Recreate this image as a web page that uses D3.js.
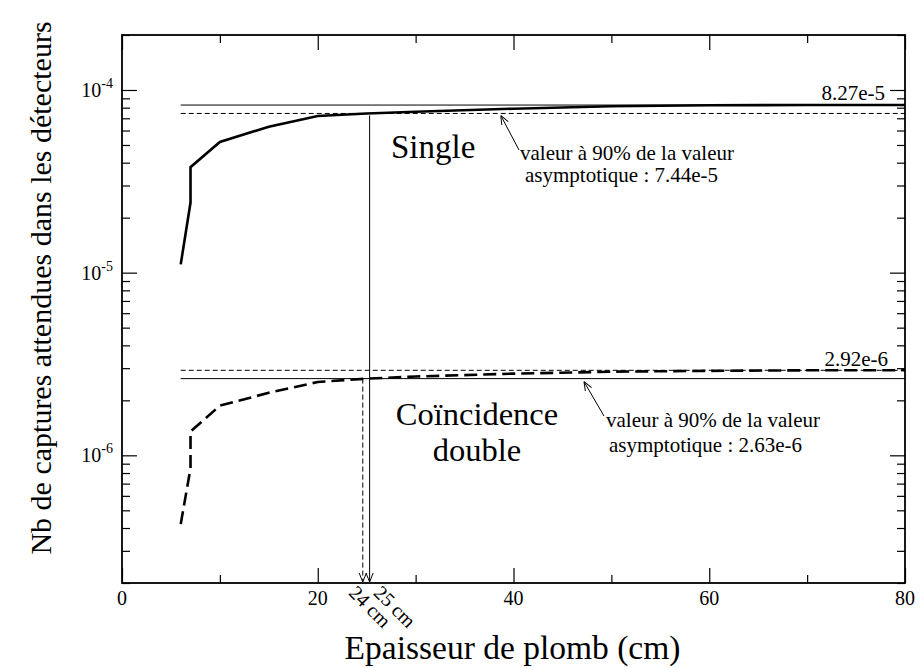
<!DOCTYPE html>
<html><head><meta charset="utf-8">
<script src="https://cdn.jsdelivr.net/npm/d3@7"></script>
<style>body{margin:0;background:#fff}svg,text,tspan{font-family:"Liberation Serif","Times New Roman",Times,serif}</style>
</head><body><svg id="c" width="920" height="668" font-family="Liberation Serif, serif"></svg>
<script>
// ---- data ----
const thickness = [6, 7, 7, 10, 15, 20, 25, 30, 40, 50, 60, 70, 80];
const singleVals = [1.11e-5, 2.42e-5, 3.78e-5, 5.19e-5, 6.3e-5, 7.2e-5, 7.44e-5, 7.6e-5, 7.9e-5, 8.15e-5, 8.25e-5, 8.27e-5, 8.27e-5];
const coincVals = [4.2e-7, 8.5e-7, 1.35e-6, 1.87e-6, 2.2e-6, 2.52e-6, 2.63e-6, 2.7e-6, 2.8e-6, 2.87e-6, 2.9e-6, 2.92e-6, 2.92e-6];
const singleAsym = 8.27e-5, single90 = 7.44e-5;
const coincAsym = 2.92e-6, coinc90 = 2.63e-6;
const xMajorTicks = [0, 20, 40, 60, 80];
const xMinorTicks = [10, 30, 50, 70];
const yMajorExp = [-6, -5, -4];
const cut = {single: 25.3, coinc: 24.6};
const lineStart = 6, lineEnd = 80;

const svg = d3.select("#c");
const L = 122, R = 905, T = 35, B = 583;
const x = d3.scaleLinear().domain([0, 80]).range([L, R]);
const y = d3.scaleLog().domain([2e-7, 2e-4]).range([B, T]);

const yMinor = [];
[-7, -6, -5, -4].forEach(e => { for (let k = 2; k <= 9; k++) { const v = k * Math.pow(10, e); if (v >= 2e-7 && v <= 2e-4) yMinor.push(v); } });
const yMajor = yMajorExp.map(e => Math.pow(10, e));

const g = svg.append("g");
function axis(gen, vals, size, tr) {
  const a = g.append("g").attr("transform", tr).call(gen.tickValues(vals).tickSize(size).tickFormat(""));
  a.select(".domain").remove();
  a.selectAll("line").attr("stroke", "#000").attr("stroke-width", 1.2);
}
axis(d3.axisBottom(x), xMajorTicks, -15, `translate(0,${B})`);
axis(d3.axisBottom(x), xMinorTicks, -8, `translate(0,${B})`);
axis(d3.axisTop(x), xMajorTicks, -15, `translate(0,${T})`);
axis(d3.axisTop(x), xMinorTicks, -8, `translate(0,${T})`);
axis(d3.axisLeft(y), yMajor, -15, `translate(${L},0)`);
axis(d3.axisLeft(y), yMinor, -8, `translate(${L},0)`);
axis(d3.axisRight(y), yMajor, -15, `translate(${R},0)`);
axis(d3.axisRight(y), yMinor, -8, `translate(${R},0)`);

g.append("rect").attr("x", L).attr("y", T).attr("width", R - L).attr("height", B - T)
  .attr("fill", "none").attr("stroke", "#000").attr("stroke-width", 1.8);

g.selectAll(".xl").data(xMajorTicks).join("text").attr("x", d => x(d)).attr("y", B + 22)
  .attr("text-anchor", "middle").attr("font-size", 20).text(d => d);
yMajorExp.forEach(e => {
  const t = g.append("text").attr("x", L - 9).attr("y", y(Math.pow(10, e)) + 7)
    .attr("text-anchor", "end").attr("font-size", 20);
  t.append("tspan").text("10");
  t.append("tspan").attr("font-size", 14).attr("dy", -9).text("-" + Math.abs(e));
});

svg.append("text").attr("x", (L + R) / 2 - 1).attr("y", 659).attr("text-anchor", "middle")
  .attr("font-size", 33.5).text("Epaisseur de plomb (cm)");
svg.append("text").attr("transform", `translate(51,${(T + B) / 2 - 21}) rotate(-90)`)
  .attr("text-anchor", "middle").attr("font-size", 30).text("Nb de captures attendues dans les détecteurs");

svg.append("defs").append("marker").attr("id", "ah").attr("viewBox", "0 0 10 10")
  .attr("refX", 10).attr("refY", 5).attr("markerWidth", 9).attr("markerHeight", 9)
  .attr("markerUnits", "userSpaceOnUse").attr("orient", "auto")
  .append("path").attr("d", "M0,1 L10,5 L0,9").attr("fill", "none").attr("stroke", "#000").attr("stroke-width", 1.1);

function hline(v, dash) {
  svg.append("line").attr("x1", x(lineStart)).attr("x2", x(lineEnd)).attr("y1", y(v)).attr("y2", y(v))
    .attr("stroke", "#000").attr("stroke-width", 1).attr("stroke-dasharray", dash);
}
hline(singleAsym, null);
hline(single90, "5,3");
hline(coincAsym, "5,3");
hline(coinc90, null);

const line = d3.line().x((d, i) => x(thickness[i])).y(d => y(d));
svg.append("path").attr("d", line(singleVals)).attr("fill", "none").attr("stroke", "#000").attr("stroke-width", 2.6);
svg.append("path").attr("d", line(coincVals)).attr("fill", "none").attr("stroke", "#000").attr("stroke-width", 2.6)
  .attr("stroke-dasharray", "13,6");

svg.append("line").attr("x1", x(cut.single)).attr("x2", x(cut.single)).attr("y1", y(single90) + 2).attr("y2", B - 1)
  .attr("stroke", "#000").attr("stroke-width", 1).attr("marker-end", "url(#ah)");
svg.append("line").attr("x1", x(cut.coinc)).attr("x2", x(cut.coinc)).attr("y1", y(coinc90)).attr("y2", B - 1)
  .attr("stroke", "#000").attr("stroke-width", 1).attr("stroke-dasharray", "5,3").attr("marker-end", "url(#ah)");

svg.append("text").attr("transform", `translate(${x(cut.coinc) - 15},594) rotate(45)`).attr("font-size", 20).text("24 cm");
svg.append("text").attr("transform", `translate(${x(cut.single) + 3},594) rotate(45)`).attr("font-size", 20).text("25 cm");

svg.append("text").attr("x", 885).attr("y", y(singleAsym) - 5).attr("text-anchor", "end").attr("font-size", 21).text("8.27e-5");
svg.append("text").attr("x", 888).attr("y", y(coincAsym) - 4).attr("text-anchor", "end").attr("font-size", 21).text("2.92e-6");

svg.append("text").attr("x", 391).attr("y", 158).attr("font-size", 33).text("Single");
svg.append("text").attr("x", 477).attr("y", 425).attr("text-anchor", "middle").attr("font-size", 32.5).text("Coïncidence");
svg.append("text").attr("x", 477).attr("y", 461).attr("text-anchor", "middle").attr("font-size", 32.5).text("double");

function annot(tx, ty, hx, hy, lx, l1y, l2x, l2y, val) {
  svg.append("line").attr("x1", tx).attr("y1", ty).attr("x2", hx).attr("y2", hy)
    .attr("stroke", "#000").attr("stroke-width", 1).attr("marker-end", "url(#ah)");
  const t = svg.append("text").attr("font-size", 21);
  t.append("tspan").attr("x", lx).attr("y", l1y).text("valeur à 90% de la valeur");
  t.append("tspan").attr("x", l2x).attr("y", l2y).text("asymptotique : " + val);
}
annot(519, 150, x(38.7), y(single90) + 2, 520, 160, 525, 182, "7.44e-5");
annot(604, 416, x(47.2), y(coinc90) + 3, 606, 427, 609, 452, "2.63e-6");
</script></body></html>
